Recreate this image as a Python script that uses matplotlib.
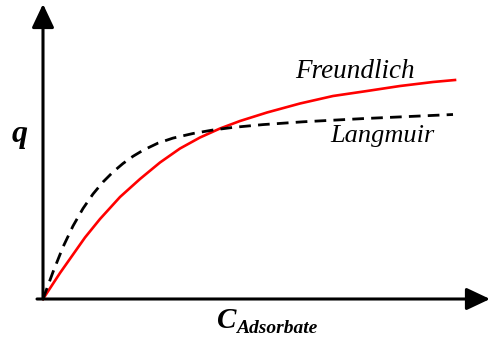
"""Adsorption isotherm sketch: Freundlich vs Langmuir uptake against concentration."""

import matplotlib

matplotlib.use("Agg")
import matplotlib.pyplot as plt
import numpy as np


# concentration (arbitrary units) and uptake q for each isotherm
freundlich_c = [0.0, 0.17, 0.42, 0.57, 0.77, 0.97, 1.17, 1.37, 1.57, 1.77, 1.97, 2.24, 2.57, 2.90, 3.24, 3.57, 3.90, 4.12]
freundlich_q = [0.0, 0.26, 0.615, 0.80, 1.02, 1.20, 1.365, 1.505, 1.615, 1.705, 1.78, 1.865, 1.955, 2.03, 2.08, 2.13, 2.17, 2.19]

langmuir_c = [0.0, 0.1, 0.2, 0.3, 0.4, 0.5, 0.6, 0.7, 0.8, 0.9, 1.0, 1.15, 1.3, 1.5, 1.7, 1.9, 2.2, 2.6, 3.2, 4.1]
langmuir_q = [0.0, 0.27, 0.52, 0.73, 0.905, 1.05, 1.17, 1.27, 1.355, 1.427, 1.487, 1.559, 1.609, 1.655, 1.69,
              1.716, 1.744, 1.772, 1.804, 1.845]

SERIF = "Liberation Serif"


def main() -> int:
    fig = plt.figure(figsize=(4.9, 3.42), dpi=100)
    ax = fig.add_axes([0, 0, 1, 1])
    ax.set_xlim(-0.43, 4.47)
    ax.set_ylim(-0.43, 2.99)
    ax.axis("off")

    arrow = dict(
        arrowstyle="-|>,head_length=0.72,head_width=0.34",
        lw=2.2,
        color="black",
        mutation_scale=20,
        shrinkA=0,
        shrinkB=0,
    )
    ax.annotate("", xy=(0.0, 2.95), xytext=(0.0, 0.0), arrowprops=arrow)
    ax.annotate("", xy=(4.47, 0.0), xytext=(-0.06, 0.0), arrowprops=arrow)

    ax.plot(freundlich_c, freundlich_q, color="#ff0000", lw=1.9, solid_joinstyle="round")
    ax.plot(langmuir_c, langmuir_q, color="black", lw=2.0, linestyle=(0, (4.2, 2.6)))

    ax.text(2.52, 2.21, "Freundlich", fontsize=19.5, family=SERIF, style="italic", ha="left", va="baseline")
    ax.text(2.87, 1.57, "Langmuir", fontsize=19, family=SERIF, style="italic", ha="left", va="baseline")

    ax.text(-0.23, 1.57, "q", fontsize=23, family=SERIF, style="italic", weight="bold", ha="center", va="baseline")
    ax.text(1.74, -0.29, "C", fontsize=21, family=SERIF, style="italic", weight="bold", ha="left", va="baseline")
    ax.text(1.93, -0.34, "Adsorbate", fontsize=14, family=SERIF, style="italic", weight="bold", ha="left", va="baseline")

    fig.savefig("out.png", dpi=100)
    plt.close(fig)
    return 0


if __name__ == "__main__":
    raise SystemExit(main())
